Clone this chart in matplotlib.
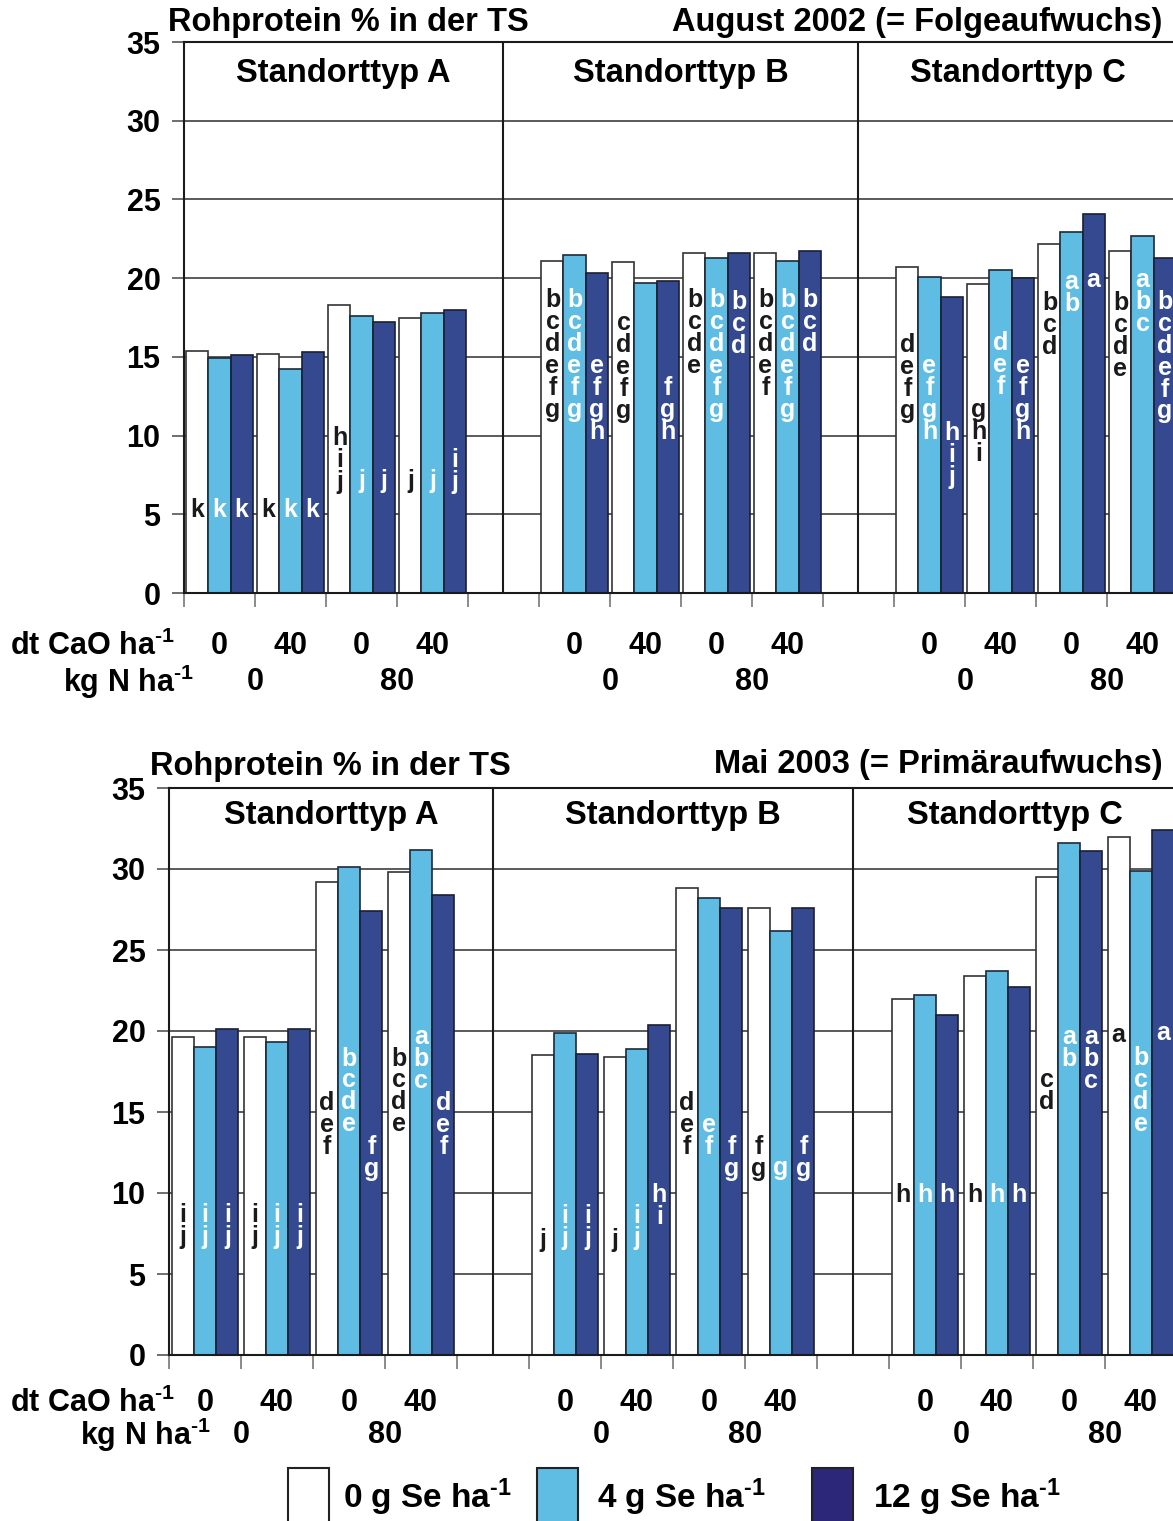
import numpy as np
import matplotlib.pyplot as plt
from matplotlib import font_manager
from matplotlib.patches import Rectangle

# crude protein (% of dry matter), 12 treatment groups per harvest:
# Standorttyp A, B, C  x  (N 0 / CaO 0, N 0 / CaO 40, N 80 / CaO 0, N 80 / CaO 40)
aug_se0 = [15.4, 15.2, 18.3, 17.5, 21.1, 21.0, 21.6, 21.6, 20.7, 19.6, 22.2, 21.7]
aug_se4 = [14.9, 14.2, 17.6, 17.8, 21.5, 19.7, 21.3, 21.1, 20.1, 20.5, 22.9, 22.7]
aug_se12 = [15.1, 15.3, 17.2, 18.0, 20.3, 19.8, 21.6, 21.7, 18.8, 20.0, 24.1, 21.3]

mai_se0 = [19.6, 19.6, 29.2, 29.8, 18.5, 18.4, 28.8, 27.6, 22.0, 23.4, 29.5, 32.0]
mai_se4 = [19.0, 19.3, 30.1, 31.2, 19.9, 18.9, 28.2, 26.2, 22.2, 23.7, 31.6, 29.9]
mai_se12 = [20.1, 20.1, 27.4, 28.4, 18.6, 20.4, 27.6, 27.6, 21.0, 22.7, 31.1, 32.4]

# significance letters
aug_let0 = ['k', 'k', 'hij', 'j', 'bcdefg', 'cdefg', 'bcde', 'bcdef', 'defg', 'ghi', 'bcd', 'bcde']
aug_let4 = ['k', 'k', 'j', 'j', 'bcdefg', '', 'bcdefg', 'bcdefg', 'efgh', 'def', 'ab', 'abc']
aug_let12 = ['k', 'k', 'j', 'ij', 'efgh', 'fgh', 'bcd', 'bcd', 'hij', 'efgh', 'a', 'bcdefg']

mai_let0 = ['ij', 'ij', 'def', 'bcde', 'j', 'j', 'def', 'fg', 'h', 'h', 'cd', 'a']
mai_let4 = ['ij', 'ij', 'bcde', 'abc', 'ij', 'ij', 'ef', 'g', 'h', 'h', 'ab', 'bcde']
mai_let12 = ['ij', 'ij', 'fg', 'def', 'ij', 'hi', 'fg', 'fg', 'h', 'h', 'abc', 'a']

# height of the first letter of each stack
aug_ly0 = [5.3, 5.3, 9.85, 7.1, 18.6, 17.15, 18.6, 18.6, 15.75, 11.6, 18.4, 18.4]
aug_ly4 = [5.3, 5.3, 7.1, 7.1, 18.6, 0, 18.6, 18.6, 14.4, 15.9, 19.75, 19.9]
aug_ly12 = [5.3, 5.3, 7.1, 8.45, 14.4, 13.0, 18.5, 18.6, 10.15, 14.4, 19.9, 18.5]

mai_ly0 = [8.65, 8.65, 15.55, 18.3, 7.1, 7.1, 15.55, 12.85, 9.9, 9.9, 17.0, 19.75]
mai_ly4 = [8.65, 8.65, 18.3, 19.65, 8.55, 8.55, 14.2, 11.55, 9.9, 9.9, 19.65, 18.35]
mai_ly12 = [8.65, 8.65, 12.85, 15.55, 8.55, 9.9, 12.85, 12.85, 9.9, 9.9, 19.65, 19.9]

sites = ['Standorttyp A', 'Standorttyp B', 'Standorttyp C']
cao_labels = ['0', '40', '0', '40']
n_labels = ['0', '80']
SUP = r'$^{\text{-1}}$'
se_labels = ['0 g Se ha' + SUP, '4 g Se ha' + SUP, '12 g Se ha' + SUP]

LIGHT = '#5fbde4'
DARK = '#34498f'
DARK_LEG = '#2c2778'

names = {f.name for f in font_manager.fontManager.ttflist}
if 'Liberation Sans Narrow' in names:
    NARROW, NSIZE = 'Liberation Sans Narrow', 26
else:
    NARROW, NSIZE = 'Liberation Sans', 22

plt.rcParams['font.family'] = 'Liberation Sans'
plt.rcParams['font.weight'] = 'bold'
plt.rcParams['mathtext.fontset'] = 'custom'
plt.rcParams['mathtext.rm'] = NARROW + ':bold'
plt.rcParams['mathtext.bf'] = NARROW + ':bold'
plt.rcParams['mathtext.default'] = 'rm'

W, H = 1173, 1521
fig = plt.figure(figsize=(W / 100, H / 100), dpi=100)


def px_axes(left, top, right, bottom):
    return [left / W, 1 - bottom / H, (right - left) / W, (bottom - top) / H]


xpos = np.array([0, 1, 2, 3, 5, 6, 7, 8, 10, 11, 12, 13])
bw = 0.31


def panel(ax, se0, se4, se12, let0, let4, let12, ly0, ly4, ly12, cao_y, n_y, site_y):
    ax.set_xlim(-0.5, 13.5)
    ax.set_ylim(0, 35)
    series = [(se0, 'white', '#333333', -bw, let0, ly0, '#1a1a1a'),
              (se4, LIGHT, '#1e2a3a', 0, let4, ly4, 'white'),
              (se12, DARK, '#1a1f33', bw, let12, ly12, 'white')]
    for vals, fc, ec, off, lets, lys, tc in series:
        ax.bar(xpos + off, vals, width=bw, color=fc, edgecolor=ec, linewidth=1.2, zorder=2)
        for x, lab, y in zip(xpos, lets, lys):
            for k, ch in enumerate(lab):
                ax.annotate(ch, (x + off, y), xytext=(0, -k * 15.8), textcoords='offset points',
                            ha='center', va='center', fontsize=18, color=tc, zorder=3)

    ax.set_yticks(range(0, 36, 5))
    ax.tick_params(axis='y', labelsize=NSIZE, length=9, width=1.2, color='#555555', pad=8)
    for t in ax.get_yticklabels():
        t.set_fontfamily(NARROW)
    ax.yaxis.grid(True, color='#5a5a5a', lw=1.4)
    ax.set_axisbelow(True)

    ax.set_xticks(np.arange(-0.5, 14, 1))
    ax.set_xticklabels([])
    ax.tick_params(axis='x', length=10, width=1.2, color='#777777')
    for s in ax.spines.values():
        s.set_linewidth(1.5)
        s.set_color('#1a1a1a')

    ax.axvline(4, color='#1a1a1a', lw=1.5, zorder=1)
    ax.axvline(9, color='#1a1a1a', lw=1.5, zorder=1)
    for cx, name in zip([1.75, 6.5, 11.25], sites):
        ax.text(cx, site_y, name, ha='center', va='center', fontsize=23.5)

    tr = ax.get_xaxis_transform()
    for sec in range(3):
        for k, lab in enumerate(cao_labels):
            ax.text(sec * 5 + k, cao_y, lab, transform=tr, ha='center', va='center',
                    family=NARROW, fontsize=NSIZE)
        for k, lab in enumerate(n_labels):
            ax.text(sec * 5 + 0.5 + 2 * k, n_y, lab, transform=tr, ha='center', va='center',
                    family=NARROW, fontsize=NSIZE)


ax1 = fig.add_axes(px_axes(184, 42, 184 + 14 * 71, 593))
panel(ax1, aug_se0, aug_se4, aug_se12, aug_let0, aug_let4, aug_let12,
      aug_ly0, aug_ly4, aug_ly12, -0.0965, -0.1617, 33.0)

ax2 = fig.add_axes(px_axes(169, 788, 169 + 14 * 72, 1355))
panel(ax2, mai_se0, mai_se4, mai_se12, mai_let0, mai_let4, mai_let12,
      mai_ly0, mai_ly4, mai_ly12, -0.0849, -0.1413, 33.3)

# headings
fig.text(168 / W, 1 - 23 / H, 'Rohprotein % in der TS', ha='left', va='center', fontsize=23.5)
fig.text(1162 / W, 1 - 23 / H, 'August 2002 (= Folgeaufwuchs)', ha='right', va='center', fontsize=23.5)
fig.text(150 / W, 1 - 767 / H, 'Rohprotein % in der TS', ha='left', va='center', fontsize=23.5)
fig.text(1163 / W, 1 - 765 / H, 'Mai 2003 (= Primäraufwuchs)', ha='right', va='center', fontsize=23.5)

# row captions under the axes
for x, y, txt in [(10, 646, 'dt CaO ha' + SUP), (63, 682, 'kg N ha' + SUP),
                  (10, 1403, 'dt CaO ha' + SUP), (80, 1435, 'kg N ha' + SUP)]:
    fig.text(x / W, 1 - y / H, txt, ha='left', va='center', family=NARROW, fontsize=NSIZE)

# legend
for x0, fc, txt, tx in zip([288, 537, 812], ['white', LIGHT, DARK_LEG], se_labels, [343, 597, 873]):
    fig.add_artist(Rectangle((x0 / W, (H - 1560) / H), 41 / W, (1560 - 1468) / H,
                             transform=fig.transFigure, fc=fc, ec='#222222', lw=1.5))
    fig.text(tx / W, 1 - 1497 / H, txt, ha='left', va='center', family=NARROW, fontsize=NSIZE + 2)

fig.savefig('out.png', dpi=100)
